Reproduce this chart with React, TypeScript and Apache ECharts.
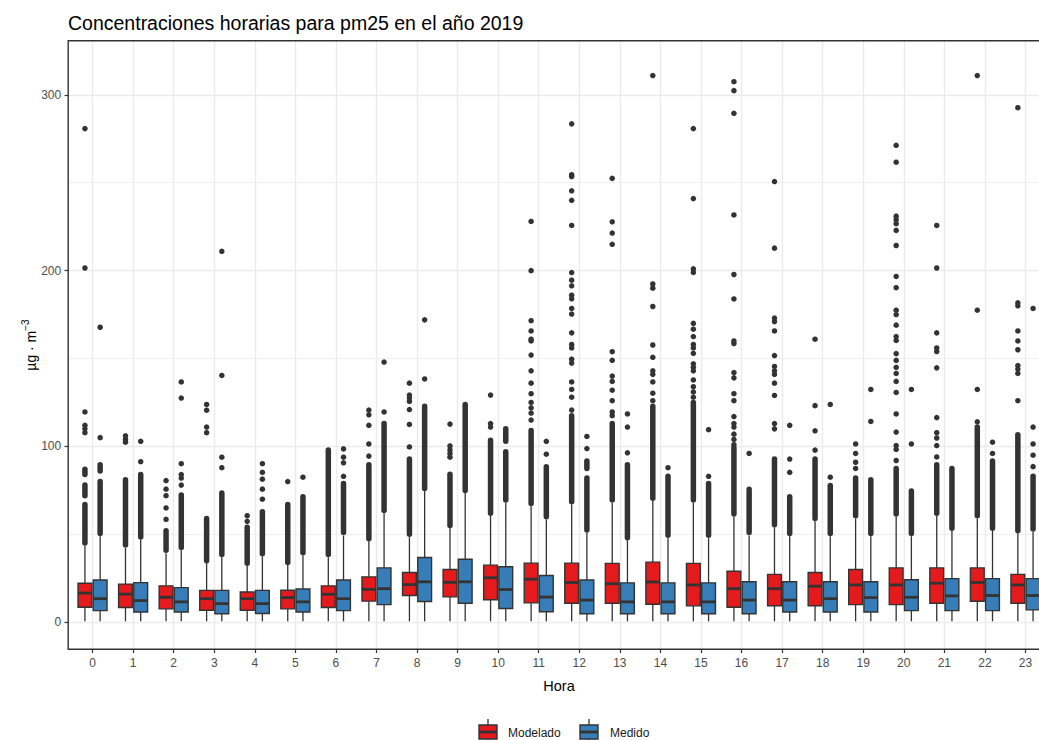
import React, { useEffect, useRef } from "react";
import * as echarts from "echarts";

// ---------- data ----------
const hours = [0, 1, 2, 3, 4, 5, 6, 7, 8, 9, 10, 11, 12, 13, 14, 15, 16, 17, 18, 19, 20, 21, 22, 23];
const yTicks = [0, 100, 200, 300];

// Modelado (red)
const modLow = [0.5, 0.5, 0.5, 0.5, 0.5, 0.5, 0.5, 0.5, 0.5, 0.5, 0.5, 0.5, 0.5, 0.5, 0.5, 0.5, 0.5, 0.5, 0.5, 0.5, 0.5, 0.5, 0.5, 0.5];
const modQ1 = [8.5, 8.4, 7.6, 6.8, 6.8, 7.6, 8.4, 12.0, 15.2, 14.4, 12.8, 11.0, 10.8, 10.8, 10.2, 9.3, 8.5, 9.4, 9.4, 10.0, 10.0, 10.8, 11.9, 10.8];
const modMed = [16.6, 16.0, 14.2, 13.4, 13.4, 14.0, 15.9, 18.7, 21.4, 22.7, 25.3, 24.5, 22.6, 21.9, 22.9, 21.2, 19.1, 19.1, 20.5, 21.2, 21.2, 22.2, 22.6, 21.2];
const modQ3 = [22.2, 21.7, 20.7, 18.1, 17.2, 18.2, 20.7, 25.8, 28.3, 30.0, 32.5, 33.6, 33.6, 33.5, 34.2, 33.5, 29.0, 27.2, 28.3, 30.0, 30.9, 30.9, 30.9, 27.2];
const modHigh = [43.5, 42.3, 39.2, 33.9, 32.0, 32.8, 37.0, 46.0, 48.4, 53.6, 60.7, 66.0, 67.0, 68.0, 69.0, 68.0, 60.0, 54.0, 57.4, 59.0, 60.0, 60.7, 59.0, 50.6];

// Medido (blue)
const medLow = [0.5, 0.5, 0.5, 0.5, 0.5, 0.5, 0.5, 0.5, 0.5, 0.5, 0.5, 0.5, 0.5, 0.5, 0.5, 0.5, 0.5, 0.5, 0.5, 0.5, 0.5, 0.5, 0.5, 0.5];
const medQ1 = [6.6, 5.8, 5.8, 4.8, 5.0, 5.8, 6.6, 10.0, 11.8, 10.8, 7.8, 6.0, 4.8, 4.8, 4.8, 4.8, 4.8, 5.8, 5.8, 5.8, 6.6, 6.6, 6.6, 7.0];
const medMed = [13.4, 12.3, 11.6, 10.6, 10.6, 11.6, 13.4, 19.1, 23.0, 23.0, 18.6, 14.3, 12.6, 11.6, 11.6, 11.6, 12.6, 12.6, 13.4, 14.0, 14.2, 15.0, 15.2, 15.2];
const medQ3 = [24.0, 22.5, 19.7, 18.1, 18.1, 18.9, 24.0, 30.9, 36.8, 35.8, 31.6, 26.6, 24.0, 22.4, 22.4, 22.4, 23.0, 23.0, 23.0, 23.0, 24.2, 24.8, 24.8, 24.8];
const medHigh = [48.9, 47.0, 41.0, 37.0, 37.5, 38.0, 49.3, 62.0, 74.6, 73.5, 68.0, 58.5, 51.0, 46.7, 47.8, 47.8, 49.3, 48.9, 48.9, 48.9, 48.9, 52.0, 52.0, 51.4];

// dense runs of outliers: [hour, from, to]
const modDense = [
  [0, 45, 67], [0, 72, 78], [0, 84, 87], [1, 44, 81], [2, 41, 52], [3, 35, 59], [4, 33.5, 54], [5, 34, 67],
  [6, 38.5, 98], [7, 47.5, 89.6], [8, 50, 92.8], [9, 55, 84.2], [10, 62, 103.5], [11, 67.5, 109],
  [12, 68.5, 117.4], [13, 69.5, 113], [14, 70.5, 122.8], [15, 69.5, 125], [16, 61.5, 99.2], [17, 55.5, 92.8],
  [18, 59, 92.8], [19, 60.5, 82], [20, 61.5, 87.4], [21, 62, 89.6], [22, 60.5, 111], [23, 52, 106.7],
];
const medDense = [
  [0, 50.5, 80], [0, 86, 89.6], [1, 48.5, 84], [2, 42.5, 72.4], [3, 38.5, 73.5], [4, 39, 62.8], [5, 39.5, 71.4],
  [6, 51, 78.9], [7, 63.5, 113], [8, 76, 122.8], [9, 75, 123.9], [10, 69.5, 97], [10, 103, 110], [11, 60, 88.5],
  [12, 52.5, 82], [12, 87.4, 91.7], [13, 48, 89.6], [14, 49.5, 83], [15, 49.5, 78.9], [16, 51, 75.7],
  [17, 50.5, 71.4], [18, 50.5, 77.8], [19, 50.5, 81], [20, 50.5, 74.6], [21, 53.5, 87.4], [22, 53.5, 91.7], [23, 53, 83],
];

// isolated outliers: [hour, value]
const modOut = [
  [0, 107.8], [0, 110], [0, 112], [0, 119.6], [0, 201.5], [0, 280.8],
  [1, 102.4], [1, 104], [1, 106],
  [2, 58.5], [2, 65], [2, 72], [2, 75.7], [2, 80.6],
  [3, 107.8], [3, 111], [3, 120.6], [3, 123.9],
  [4, 57.4], [4, 60.6],
  [5, 80],
  [7, 94.5], [7, 101.4], [7, 112], [7, 118], [7, 120.7],
  [8, 99.7], [8, 112.5], [8, 121], [8, 125.6], [8, 127.5], [8, 129.2], [8, 136],
  [9, 93.9], [9, 96], [9, 98], [9, 100.3], [9, 112.7],
  [10, 111], [10, 113], [10, 129.2],
  [11, 115], [11, 119], [11, 122], [11, 125], [11, 130], [11, 136], [11, 143], [11, 152], [11, 160], [11, 161], [11, 165.7], [11, 171.5], [11, 200], [11, 228],
  [12, 120.7], [12, 128], [12, 132.4], [12, 136.7], [12, 147.4], [12, 149.6], [12, 156], [12, 158], [12, 164.6], [12, 175.3], [12, 178.5], [12, 184], [12, 186], [12, 191.4], [12, 194.6], [12, 198.9], [12, 225.7], [12, 240], [12, 245.4], [12, 253.5], [12, 254.6], [12, 283.5],
  [13, 117.5], [13, 119.6], [13, 126], [13, 132], [13, 137], [13, 140], [13, 149], [13, 153.9], [13, 215], [13, 221.4], [13, 227.8], [13, 252.5],
  [14, 126], [14, 130.3], [14, 136.7], [14, 141], [14, 143], [14, 150.7], [14, 157.7], [14, 179.6], [14, 190], [14, 192.4], [14, 311],
  [15, 128], [15, 131], [15, 134], [15, 137.8], [15, 143], [15, 145], [15, 147], [15, 153], [15, 156], [15, 158], [15, 162.5], [15, 166.7], [15, 170], [15, 199], [15, 201], [15, 241], [15, 280.8],
  [16, 101], [16, 104], [16, 107], [16, 111], [16, 113], [16, 117], [16, 126], [16, 130], [16, 139], [16, 142], [16, 158.5], [16, 160], [16, 183.9], [16, 197.8], [16, 231.7], [16, 289.5], [16, 302.4], [16, 307.5],
  [17, 110], [17, 113], [17, 129], [17, 136], [17, 141], [17, 143], [17, 145.5], [17, 151.7], [17, 165.7], [17, 171], [17, 173], [17, 212.8], [17, 250.7],
  [18, 97.9], [18, 108.9], [18, 123.2], [18, 161],
  [19, 87.5], [19, 91], [19, 96], [19, 101.4],
  [20, 92], [20, 98.3], [20, 100.5], [20, 108.2], [20, 118.5], [20, 130.7], [20, 137], [20, 141.5], [20, 145], [20, 149], [20, 152.8], [20, 160.3], [20, 162.5], [20, 169], [20, 175], [20, 177.5], [20, 190.3], [20, 196.7], [20, 214.3], [20, 222.9], [20, 226.7], [20, 229], [20, 231], [20, 261.7], [20, 271.3],
  [21, 94], [21, 100.5], [21, 104.8], [21, 107.8], [21, 116.4], [21, 144.7], [21, 154], [21, 156], [21, 164.6], [21, 201.5], [21, 225.7],
  [22, 114], [22, 132.4], [22, 177.5], [22, 311],
  [23, 126], [23, 141.5], [23, 144], [23, 146], [23, 155], [23, 160], [23, 165.7], [23, 180], [23, 181.7], [23, 292.7],
];
const medOut = [
  [0, 105], [0, 167.8],
  [1, 91.3], [1, 102.9],
  [2, 78], [2, 82], [2, 84], [2, 90.2], [2, 127.5], [2, 136.7],
  [3, 87.9], [3, 93.9], [3, 140.4], [3, 211],
  [4, 70], [4, 75.7], [4, 81.4], [4, 85.3], [4, 90.2],
  [5, 82.5],
  [6, 83], [6, 90.7], [6, 93.9], [6, 98.6],
  [7, 119.6], [7, 148],
  [8, 138.4], [8, 172],
  [11, 95.6], [11, 102.9],
  [12, 98.8], [12, 105.7],
  [13, 96.4], [13, 111], [13, 118.5],
  [14, 87.9],
  [15, 83], [15, 109.5],
  [16, 96],
  [17, 85.3], [17, 92.8], [17, 112],
  [18, 82.5], [18, 123.9],
  [19, 114.2], [19, 132.4],
  [20, 101.4], [20, 132.4],
  [22, 96], [22, 102.4],
  [23, 88.5], [23, 95], [23, 101.4], [23, 111], [23, 178.5],
];

const seriesNames = ["Modelado", "Medido"];

// ---------- style / layout ----------
const FONT = "'Liberation Sans', Arial, Helvetica, sans-serif";
const RED = "#E41A1C";
const BLUE = "#377EB8";
const INK = "#333333";
const GRIDC = "#EBEBEB";
const DODGE = 0.1875;
const BOXW = 0.375;
const PT = 5.5; // outlier point diameter

const G = { left: 68.2, top: 40.7, width: 981.6, height: 608.6 };

function boxData(low: number[], q1: number[], med: number[], q3: number[], high: number[], off: number) {
  return hours.map((h, i) => [h + off, low[i], q1[i], med[i], q3[i], high[i]]);
}

function makeBoxRender(fill: string) {
  return (params: any, api: any) => {
    const x = api.value(0);
    const pLow = api.coord([x, api.value(1)]);
    const pQ1 = api.coord([x, api.value(2)]);
    const pMed = api.coord([x, api.value(3)]);
    const pQ3 = api.coord([x, api.value(4)]);
    const pHigh = api.coord([x, api.value(5)]);
    const cx = pLow[0];
    const w = api.size([BOXW, 0])[0] - 1.4;
    return {
      type: "group",
      children: [
        { type: "line", shape: { x1: cx, y1: pLow[1], x2: cx, y2: pQ1[1] }, style: { stroke: INK, lineWidth: 1.3 } },
        { type: "line", shape: { x1: cx, y1: pQ3[1], x2: cx, y2: pHigh[1] }, style: { stroke: INK, lineWidth: 1.3 } },
        {
          type: "rect",
          shape: { x: cx - w / 2, y: pQ3[1], width: w, height: pQ1[1] - pQ3[1] },
          style: { fill, stroke: INK, lineWidth: 1.4 },
        },
        {
          type: "line",
          shape: { x1: cx - w / 2, y1: pMed[1], x2: cx + w / 2, y2: pMed[1] },
          style: { stroke: INK, lineWidth: 2.8 },
        },
      ],
    };
  };
}

function denseRender(params: any, api: any) {
  const x = api.value(0);
  const p0 = api.coord([x, api.value(1)]);
  const p1 = api.coord([x, api.value(2)]);
  const r = PT / 2;
  return {
    type: "rect",
    shape: { x: p0[0] - r, y: p1[1] - r, width: PT, height: p0[1] - p1[1] + PT, r },
    style: { fill: INK },
  };
}

function legendKey(cx: number, fill: string) {
  return {
    type: "group",
    children: [
      { type: "line", shape: { x1: cx, y1: 719, x2: cx, y2: 746 }, style: { stroke: INK, lineWidth: 1.3 } },
      { type: "rect", shape: { x: cx - 9, y: 725, width: 18, height: 14 }, style: { fill, stroke: INK, lineWidth: 1.4 } },
      { type: "line", shape: { x1: cx - 9, y1: 732, x2: cx + 9, y2: 732 }, style: { stroke: INK, lineWidth: 2.8 } },
    ],
  };
}

export default function App() {
  const ref = useRef<HTMLDivElement>(null);
  useEffect(() => {
    if (!ref.current) return;
    const chart = echarts.init(ref.current, undefined, { renderer: "svg" });
    const offs = [-DODGE, DODGE];
    const option: any = {
      animation: false,
      backgroundColor: "#ffffff",
      title: {
        text: "Concentraciones horarias para pm25 en el año 2019",
        left: 68,
        top: 13,
        padding: 0,
        textStyle: { fontFamily: FONT, fontSize: 19.5, fontWeight: "normal", color: "#000000" },
      },
      grid: { ...G, show: false, containLabel: false },
      xAxis: {
        type: "value",
        min: -0.6,
        max: 23.6,
        minInterval: 1,
        maxInterval: 1,
        axisLine: { show: false, onZero: false },
        axisTick: { show: true, length: 3.7, customValues: hours, lineStyle: { color: INK, width: 1.2 } },
        axisLabel: { customValues: hours, color: "#4D4D4D", fontFamily: FONT, fontSize: 12, margin: 8 },
        splitLine: { show: true, lineStyle: { color: GRIDC, width: 1.4 } },
        name: "Hora",
        nameLocation: "middle",
        nameGap: 29,
        nameTextStyle: { fontFamily: FONT, fontSize: 14.5, color: "#000000" },
      },
      yAxis: {
        type: "value",
        min: -15.4,
        max: 330.8,
        minInterval: 100,
        maxInterval: 100,
        axisLine: { show: false, onZero: false },
        axisTick: { show: true, length: 3.7, customValues: yTicks, lineStyle: { color: INK, width: 1.2 } },
        axisLabel: { customValues: yTicks, color: "#4D4D4D", fontFamily: FONT, fontSize: 12, margin: 7 },
        splitLine: { show: true, lineStyle: { color: GRIDC, width: 1.4 } },
        minorTick: { show: false, splitNumber: 2 },
        minorSplitLine: { show: true, lineStyle: { color: GRIDC, width: 0.8 } },
        name: "{u|µg · m}{s|−3}",
        nameLocation: "middle",
        nameRotate: 90,
        nameGap: 30,
        nameMoveOverlap: false,
        nameTextStyle: {
          fontFamily: FONT,
          color: "#000000",
          rich: {
            u: { fontFamily: FONT, fontSize: 14, color: "#000000", lineHeight: 18, verticalAlign: "bottom" },
            s: { fontFamily: FONT, fontSize: 10, color: "#000000", lineHeight: 18, verticalAlign: "top" },
          },
        },
      },
      series: [
        ...[modDense, medDense].map((d, k) => ({
          type: "custom",
          name: seriesNames[k] + " outliers",
          renderItem: denseRender,
          encode: { x: 0, y: [1, 2] },
          data: d.map((r) => [r[0] + offs[k], r[1], r[2]]),
          z: 2,
        })),
        ...[modOut, medOut].map((d, k) => ({
          type: "scatter",
          name: seriesNames[k] + " points",
          symbol: "circle",
          symbolSize: PT,
          itemStyle: { color: INK, opacity: 1 },
          data: d.map((r) => [r[0] + offs[k], r[1]]),
          z: 2,
        })),
        {
          type: "custom",
          name: "Modelado",
          renderItem: makeBoxRender(RED),
          encode: { x: 0, y: [1, 2, 3, 4, 5] },
          data: boxData(modLow, modQ1, modMed, modQ3, modHigh, -DODGE),
          z: 3,
        },
        {
          type: "custom",
          name: "Medido",
          renderItem: makeBoxRender(BLUE),
          encode: { x: 0, y: [1, 2, 3, 4, 5] },
          data: boxData(medLow, medQ1, medMed, medQ3, medHigh, DODGE),
          z: 3,
        },
      ],
      graphic: [
        {
          type: "rect",
          z: 100,
          shape: { x: G.left, y: G.top, width: G.width, height: G.height },
          style: { fill: "none", stroke: INK, lineWidth: 1.4 },
        },
        legendKey(488, RED),
        {
          type: "text",
          x: 508,
          y: 733,
          style: { text: seriesNames[0], fontFamily: FONT, fontSize: 12, fill: "#1A1A1A", verticalAlign: "middle" },
        },
        legendKey(589, BLUE),
        {
          type: "text",
          x: 610,
          y: 733,
          style: { text: seriesNames[1], fontFamily: FONT, fontSize: 12, fill: "#1A1A1A", verticalAlign: "middle" },
        },
      ],
    };
    chart.setOption(option);
    return () => chart.dispose();
  }, []);
  return (
    <div
      ref={ref}
      style={{ position: "fixed", left: 0, top: 0, width: 1060, height: 740, background: "#ffffff" }}
    />
  );
}
